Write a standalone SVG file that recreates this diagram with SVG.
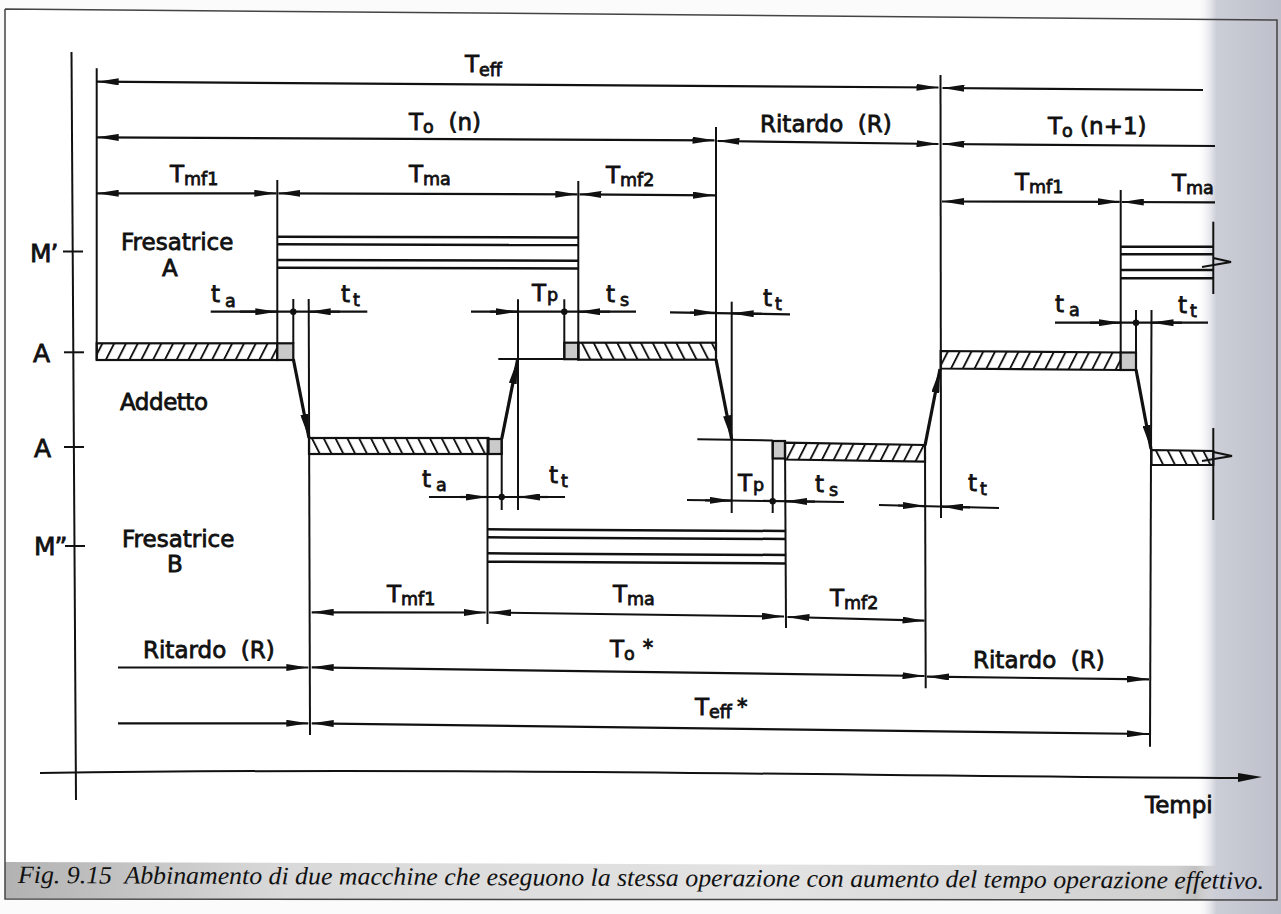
<svg xmlns="http://www.w3.org/2000/svg" width="1281" height="914" viewBox="0 0 1281 914">
<defs>
<style>
.d{stroke:#111;stroke-width:2.2;fill:none}
.e{stroke:#111;stroke-width:2;fill:none}
.m{stroke:#111;stroke-width:3.2;fill:none}
.bl{stroke:#111;stroke-width:2.5;fill:none}
.bar{stroke:#111;stroke-width:2.2}
.gq{fill:#cacaca;stroke:#111;stroke-width:2.2}
.lb{font-family:"DejaVu Sans",sans-serif;font-size:23px;fill:#111;stroke:#111;stroke-width:0.8}
.sb{font-size:17.5px}
.st{font-size:21px}
.ax{font-size:25px}
.cap{font-family:"Liberation Serif",serif;font-style:italic;font-size:25px;fill:#111}
</style>
<marker id="a" viewBox="0 0 22 7" refX="22" refY="3.5" markerWidth="22" markerHeight="7" markerUnits="userSpaceOnUse" orient="auto-start-reverse"><path d="M0,0L22,3.5L0,7z" fill="#111"/></marker>
<marker id="b" viewBox="0 0 24 8" refX="24" refY="4" markerWidth="24" markerHeight="8" markerUnits="userSpaceOnUse" orient="auto"><path d="M0,0L24,4L0,8z" fill="#111"/></marker>
<pattern id="hf" patternUnits="userSpaceOnUse" width="11.8" height="20" patternTransform="skewX(-27)"><line x1="6" y1="-1" x2="6" y2="21" stroke="#111" stroke-width="2.1"/></pattern>
<pattern id="hb" patternUnits="userSpaceOnUse" width="11.8" height="20" patternTransform="skewX(27)"><line x1="6" y1="-1" x2="6" y2="21" stroke="#111" stroke-width="2.1"/></pattern>
<linearGradient id="sh" x1="0" y1="0" x2="1" y2="0"><stop offset="0" stop-color="#ffffff" stop-opacity="0"/><stop offset="0.24" stop-color="#cbcdd7"/><stop offset="1" stop-color="#bdbfca"/></linearGradient>
<linearGradient id="cb" x1="0" y1="0" x2="1" y2="0"><stop offset="0" stop-color="#b2b2b2"/><stop offset="0.22" stop-color="#d9d9d9"/><stop offset="0.6" stop-color="#e3e3e3"/><stop offset="0.92" stop-color="#d0d0d0"/><stop offset="1" stop-color="#8a8a8a"/></linearGradient>
</defs>

<g id="page">
<rect x="0" y="0" width="1281" height="914" fill="#fbfbfb"/>
<polygon points="5,9 1277,20 1277,900 5,899" fill="#ffffff"/>
<polygon points="5,862 1277,866 1277,900 5,899" fill="url(#cb)"/>
<rect x="1196" y="0" width="85" height="914" fill="url(#sh)"/>
<polyline points="5,9 1277,20 1277,900 5,899 5,9" fill="none" stroke="#444" stroke-width="1.5"/>
</g>

<g id="axes">
<line class="e" x1="71.5" y1="52" x2="76" y2="800"/>
<path class="e" d="M40,773 C450,767 850,776 1243,778"/>
<path d="M1238,773L1262,777L1238,782z" fill="#111"/>
<line class="e" x1="63" y1="251.5" x2="83" y2="251.5"/>
<line class="e" x1="64" y1="352.3" x2="84" y2="352.3"/>
<line class="e" x1="64" y1="447" x2="84" y2="447"/>
<line class="e" x1="65" y1="546" x2="85" y2="546"/>
</g>

<g id="machineA">
<line class="bl" x1="277.3" y1="236.7" x2="578.3" y2="237.5"/>
<line class="bl" x1="277.3" y1="244.3" x2="578.3" y2="245.1"/>
<line class="bl" x1="277.3" y1="260" x2="578.3" y2="260.8"/>
<line class="bl" x1="277.3" y1="267.7" x2="578.3" y2="268.5"/>
<line class="bl" x1="1120.7" y1="246.7" x2="1213.3" y2="246.7"/>
<line class="bl" x1="1120.7" y1="254.3" x2="1213.3" y2="254.3"/>
<line class="bl" x1="1120.7" y1="270" x2="1213.3" y2="270"/>
<line class="bl" x1="1120.7" y1="278.3" x2="1213.3" y2="278.3"/>
<line class="e" x1="1213.3" y1="221.7" x2="1213.3" y2="294"/>
<polyline class="e" points="1213.3,258 1231,262 1202,267"/>
</g>

<g id="machineB">
<line class="bl" x1="487.5" y1="529.3" x2="785.5" y2="531"/>
<line class="bl" x1="487.5" y1="537.3" x2="785.5" y2="539"/>
<line class="bl" x1="487.5" y1="553.3" x2="785.5" y2="555"/>
<line class="bl" x1="487.5" y1="561.7" x2="785.5" y2="563.5"/>
</g>

<g id="operator">
<rect class="bar" x="96.7" y="343.3" width="180.6" height="16.7" fill="url(#hf)"/>
<rect class="gq" x="277.3" y="343.3" width="16" height="16.7"/>
<rect class="gq" x="564.3" y="342.7" width="14" height="16.5"/>
<rect class="bar" x="578.3" y="342.7" width="137.7" height="17" fill="url(#hb)"/>
<rect class="bar" x="309" y="438" width="179.5" height="16" fill="url(#hb)"/>
<rect class="gq" x="488.5" y="439" width="13.2" height="15"/>
<rect class="gq" x="772.7" y="441" width="12.3" height="17.5"/>
<polygon class="bar" points="785,442.7 925,445 925,461.7 785,459.5" fill="url(#hf)"/>
<polygon class="bar" points="940.7,351 1120.7,352.5 1120.7,370 940.7,368.5" fill="url(#hf)"/>
<rect class="gq" x="1120.7" y="352.5" width="15.3" height="17.5"/>
<path class="bar" d="M1151.5,450L1213.3,451L1213.3,465L1151.5,465z" fill="url(#hb)"/>
<line class="e" x1="1213.3" y1="428" x2="1213.3" y2="520"/>
<polyline class="e" points="1213.3,452 1232,456 1202,461"/>
</g>

<g id="connectors">
<line class="e" x1="96.7" y1="68.3" x2="96.7" y2="360"/>
<line class="e" x1="277.3" y1="180" x2="277.3" y2="343.3"/>
<line class="e" x1="293.3" y1="299" x2="293.3" y2="343.3"/>
<line class="e" x1="308.7" y1="299" x2="310" y2="735"/>
<line class="e" x1="578.3" y1="181" x2="578.3" y2="359"/>
<line class="e" x1="564.3" y1="299.3" x2="564.3" y2="359"/>
<line class="e" x1="518" y1="299.3" x2="518" y2="510"/>
<line class="e" x1="501.7" y1="439" x2="501.7" y2="510"/>
<line class="e" x1="487.5" y1="438" x2="487.5" y2="624"/>
<line class="e" x1="716" y1="127" x2="716" y2="345"/>
<line class="e" x1="731.7" y1="301.7" x2="731.7" y2="513"/>
<line class="e" x1="772.7" y1="441" x2="772.7" y2="513"/>
<line class="e" x1="785" y1="440" x2="786" y2="628"/>
<line class="e" x1="925" y1="445" x2="925.7" y2="688.3"/>
<line class="e" x1="940.5" y1="75" x2="941" y2="518"/>
<line class="e" x1="1120.7" y1="190" x2="1120.7" y2="352.5"/>
<line class="e" x1="1136" y1="310" x2="1136" y2="352.5"/>
<line class="e" x1="1151.5" y1="310" x2="1150" y2="746.7"/>
<line class="e" x1="498.3" y1="359" x2="564.3" y2="359"/>
<line class="e" x1="697.3" y1="439.3" x2="772.7" y2="440.5"/>

<line class="d" x1="96.7" y1="81.7" x2="938.5" y2="87.5" marker-start="url(#a)" marker-end="url(#a)"/>
<line class="d" x1="942.5" y1="88" x2="1203" y2="90" marker-start="url(#a)"/>
<line class="d" x1="96.7" y1="137.3" x2="714.5" y2="140.3" marker-start="url(#a)" marker-end="url(#a)"/>
<line class="d" x1="717.5" y1="141" x2="938.5" y2="144" marker-start="url(#a)" marker-end="url(#a)"/>
<line class="d" x1="942.5" y1="144" x2="1215" y2="146" marker-start="url(#a)"/>
<line class="d" x1="96.7" y1="193.3" x2="276.3" y2="193.3" marker-start="url(#a)" marker-end="url(#a)"/>
<line class="d" x1="278.5" y1="193.3" x2="577.3" y2="194.3" marker-start="url(#a)" marker-end="url(#a)"/>
<line class="d" x1="579.5" y1="194.3" x2="715" y2="195.3" marker-start="url(#a)" marker-end="url(#a)"/>
<line class="d" x1="942" y1="201.5" x2="1119.7" y2="201.8" marker-start="url(#a)" marker-end="url(#a)"/>
<line class="d" x1="1121.8" y1="202" x2="1215" y2="202.3" marker-start="url(#a)"/>

<line class="d" x1="210.7" y1="311.7" x2="367.3" y2="311.7"/>
<line class="d" x1="240" y1="311.7" x2="277.3" y2="311.7" marker-end="url(#a)"/>
<line class="d" x1="340" y1="311.7" x2="308.7" y2="311.7" marker-end="url(#a)"/>
<line class="d" x1="471" y1="311.7" x2="636" y2="311.7"/>
<line class="d" x1="490" y1="311.7" x2="518" y2="311.7" marker-end="url(#a)"/>
<line class="d" x1="610" y1="311.7" x2="578.3" y2="311.7" marker-end="url(#a)"/>
<line class="d" x1="670" y1="312.3" x2="790" y2="314.3"/>
<line class="d" x1="690" y1="312.5" x2="716" y2="312.8" marker-end="url(#a)"/>
<line class="d" x1="762" y1="313.8" x2="731.7" y2="313.4" marker-end="url(#a)"/>
<line class="d" x1="429" y1="497" x2="565" y2="497"/>
<line class="d" x1="460" y1="497" x2="487.5" y2="497" marker-end="url(#a)"/>
<line class="d" x1="548" y1="497" x2="518" y2="497" marker-end="url(#a)"/>
<line class="d" x1="687" y1="500" x2="844" y2="502"/>
<line class="d" x1="705" y1="500.3" x2="731.7" y2="500.6" marker-end="url(#a)"/>
<line class="d" x1="815" y1="501.6" x2="785" y2="501.3" marker-end="url(#a)"/>
<line class="d" x1="879" y1="505" x2="999" y2="508"/>
<line class="d" x1="898" y1="505.5" x2="925" y2="506.1" marker-end="url(#a)"/>
<line class="d" x1="970" y1="507.3" x2="941" y2="506.6" marker-end="url(#a)"/>
<line class="d" x1="1055" y1="322.7" x2="1208" y2="322.7"/>
<line class="d" x1="1090" y1="322.7" x2="1120.7" y2="322.7" marker-end="url(#a)"/>
<line class="d" x1="1182" y1="322.7" x2="1151.5" y2="322.7" marker-end="url(#a)"/>
<circle cx="293.3" cy="311.7" r="3.2" fill="#111"/>
<circle cx="564.3" cy="311.7" r="3.2" fill="#111"/>
<circle cx="501.7" cy="497" r="3.2" fill="#111"/>
<circle cx="772.7" cy="501.2" r="3.2" fill="#111"/>
<circle cx="1136" cy="322.7" r="3.2" fill="#111"/>

<line class="d" x1="311.7" y1="612.3" x2="485.7" y2="612.5" marker-start="url(#a)" marker-end="url(#a)"/>
<line class="d" x1="489" y1="612.5" x2="784" y2="616.5" marker-start="url(#a)" marker-end="url(#a)"/>
<line class="d" x1="787.5" y1="617" x2="924.5" y2="620.7" marker-start="url(#a)" marker-end="url(#a)"/>
<line class="d" x1="118" y1="667.5" x2="308.3" y2="667.5" marker-end="url(#a)"/>
<line class="d" x1="311.7" y1="667.3" x2="924.5" y2="676" marker-start="url(#a)" marker-end="url(#a)"/>
<line class="d" x1="927" y1="676.7" x2="1149" y2="679.3" marker-start="url(#a)" marker-end="url(#a)"/>
<line class="d" x1="118" y1="723.3" x2="308.3" y2="723.3" marker-end="url(#a)"/>
<line class="d" x1="311.7" y1="723.3" x2="1149" y2="734" marker-start="url(#a)" marker-end="url(#a)"/>

<line class="m" x1="293.3" y1="359" x2="309" y2="438" marker-end="url(#b)"/>
<line class="m" x1="501.7" y1="439" x2="517.5" y2="360" marker-end="url(#b)"/>
<line class="m" x1="716" y1="359.5" x2="731.7" y2="439.3" marker-end="url(#b)"/>
<line class="m" x1="925" y1="445.5" x2="940" y2="369" marker-end="url(#b)"/>
<line class="m" x1="1136" y1="369.5" x2="1151" y2="449" marker-end="url(#b)"/>
</g>

<g id="labels" class="lb">
<text x="465" y="72">T<tspan class="sb" dy="4">eff</tspan></text>
<text x="409" y="129.5">T<tspan class="sb" dy="3">o</tspan><tspan dy="-3" xml:space="preserve">  (n)</tspan></text>
<text x="760" y="132" xml:space="preserve">Ritardo  (R)</text>
<text x="1048" y="133.5">T<tspan class="sb" dy="3">o</tspan><tspan dy="-3" xml:space="preserve"> (n+1)</tspan></text>
<text x="170" y="182">T<tspan class="sb" dy="3">mf1</tspan></text>
<text x="409" y="182">T<tspan class="sb" dy="3">ma</tspan></text>
<text x="606" y="183">T<tspan class="sb" dy="3">mf2</tspan></text>
<text x="1015" y="190">T<tspan class="sb" dy="3">mf1</tspan></text>
<text x="1172" y="190.5">T<tspan class="sb" dy="3">ma</tspan></text>
<text class="ax" x="30" y="262">M<tspan dx="-1">’</tspan></text>
<text x="121" y="250">Fresatrice</text>
<text x="162" y="276">A</text>
<text x="211" y="302">t<tspan class="sb" dx="5" dy="5">a</tspan></text>
<text x="341" y="302">t<tspan class="sb" dx="3" dy="4">t</tspan></text>
<text x="532" y="301">T<tspan class="sb" dx="1">p</tspan></text>
<text x="606" y="302">t<tspan class="sb" dx="5" dy="4">s</tspan></text>
<text x="763" y="306">t<tspan class="sb" dx="3" dy="4">t</tspan></text>
<text x="1055" y="312">t<tspan class="sb" dx="5" dy="4">a</tspan></text>
<text x="1178" y="313">t<tspan class="sb" dx="3" dy="4">t</tspan></text>
<text class="ax" x="33" y="362">A</text>
<text class="ax" x="34" y="457">A</text>
<text x="120" y="410" textLength="88">Addetto</text>
<text x="422" y="487">t<tspan class="sb" dx="5" dy="4">a</tspan></text>
<text x="549" y="483">t<tspan class="sb" dx="3" dy="4">t</tspan></text>
<text x="738" y="491">T<tspan class="sb" dx="1">p</tspan></text>
<text x="815" y="492">t<tspan class="sb" dx="5" dy="4">s</tspan></text>
<text x="968" y="491">t<tspan class="sb" dx="3" dy="4">t</tspan></text>
<text class="ax" x="34" y="555">M<tspan dx="-1">”</tspan></text>
<text x="122" y="547">Fresatrice</text>
<text x="167" y="572">B</text>
<text x="387" y="601.7">T<tspan class="sb" dy="3">mf1</tspan></text>
<text x="613" y="602">T<tspan class="sb" dy="3">ma</tspan></text>
<text x="830" y="606">T<tspan class="sb" dy="3">mf2</tspan></text>
<text x="143" y="658" xml:space="preserve">Ritardo  (R)</text>
<text x="610" y="657">T<tspan class="sb" dy="3">o</tspan><tspan class="st" dx="8" dy="-5">*</tspan></text>
<text x="973" y="668" xml:space="preserve">Ritardo  (R)</text>
<text x="695" y="715">T<tspan class="sb" dy="3">eff</tspan><tspan class="st" dx="5" dy="-4">*</tspan></text>
<text x="1145" y="813">Tempi</text>
</g>

<g id="caption">
<text class="cap" x="18" y="883" textLength="1246" lengthAdjust="spacingAndGlyphs" transform="rotate(0.27 18 883)" xml:space="preserve">Fig. 9.15  Abbinamento di due macchine che eseguono la stessa operazione con aumento del tempo operazione effettivo.</text>
</g>
</svg>
